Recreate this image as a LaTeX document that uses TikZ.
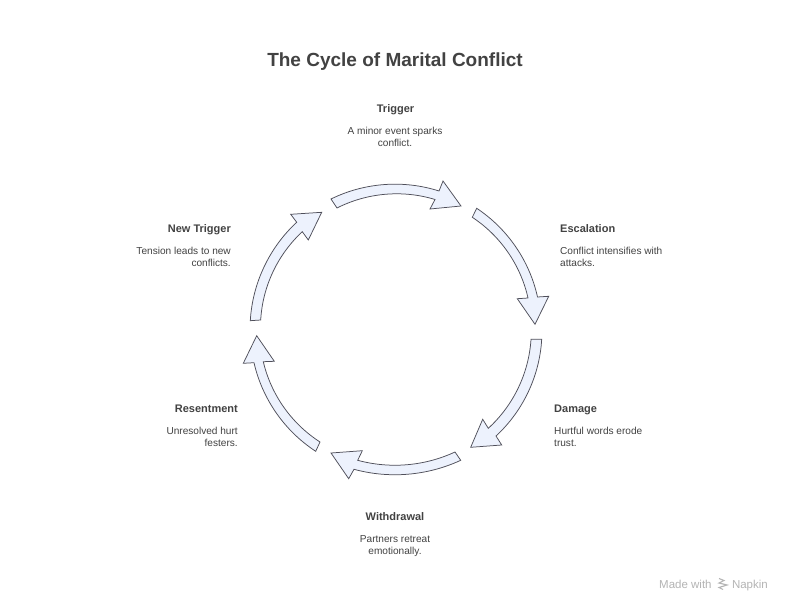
\documentclass[tikz,border=0pt]{standalone}
\usepackage{fontspec}
\setmainfont{Liberation Sans}
\definecolor{ink}{HTML}{424242}
\definecolor{arrowfill}{HTML}{EDF2FD}
\definecolor{arrowline}{HTML}{4F4F5A}
\definecolor{brandgrey}{HTML}{B4B4B4}
\tikzset{
  arrowshape/.style={draw=arrowline,fill=arrowfill,line width=0.75pt,line join=miter},
  heading/.style={inner sep=0pt,text=ink,text height=8.5pt,text depth=2.5pt,font=\fontsize{11}{14}\selectfont\bfseries},
  body/.style={inner sep=0pt,text=ink,font=\fontsize{10.1}{12}\selectfont,execute at begin node=\strut,execute at end node=\strut},
  maintitle/.style={inner sep=0pt,text=ink,text height=14pt,text depth=4pt,font=\fontsize{19}{24}\selectfont\bfseries},
  brand/.style={inner sep=0pt,text=brandgrey,text height=8.5pt,text depth=2.5pt,font=\fontsize{11.5}{14}\selectfont},
  arc1/.style={bend left=#1,looseness=0.88},
  arc2/.style={bend right=#1,looseness=0.88}
}
\newcommand{\cyclearrow}[9]{%
  \draw[arrowshape] #1 to[arc1=#9] #3 -- #5 -- #7 -- #6 -- #4 to[arc2=#9] #2 -- cycle;}
\begin{document}
\begin{tikzpicture}[x=1pt,y=-1pt]
\useasboundingbox (0,0) rectangle (792,612);
\fill[white] (0,0) rectangle (792,612);
\cyclearrow{(331,199)}{(337,208)}{(439,191)}{(435,199.5)}{(443,181)}{(430,209)}{(461,206)}{}{22}
\cyclearrow{(476.7,208.3)}{(472.3,217.3)}{(537.5,297)}{(528,298)}{(548.7,296.3)}{(517.3,298.7)}{(535,324.3)}{}{22}
\cyclearrow{(541.7,339.3)}{(531,339.3)}{(496,436)}{(488.3,428.3)}{(501.7,445)}{(482.7,419.3)}{(470.7,447.3)}{}{22}
\cyclearrow{(460.7,460.3)}{(455,452)}{(354,469.3)}{(357.7,460.3)}{(348.7,478.7)}{(362.3,450.7)}{(331,453)}{}{20}
\cyclearrow{(315.7,451.3)}{(320,442)}{(254,362.7)}{(263.3,361.7)}{(243.3,363.3)}{(274.3,361.3)}{(256.7,335.7)}{}{22}
\cyclearrow{(250.3,320.7)}{(260.7,320)}{(296.7,222.3)}{(302.3,231.7)}{(290.7,214.3)}{(308.3,240)}{(321.7,212.3)}{}{22}

\node[maintitle] (title) at (395,62) {The Cycle of Marital Conflict};

\node[heading] (h1) at (395.5,109.5) {Trigger};
\node[body,align=center] (b1) at (395,139) {A minor event sparks\\conflict.};
\node[heading,anchor=west] (h2) at (560,229.5) {Escalation};
\node[body,align=left,anchor=west] (b2) at (560,259) {Conflict intensifies with\\attacks.};
\node[heading,anchor=west] (h3) at (554,409.5) {Damage};
\node[body,align=left,anchor=west] (b3) at (554,439) {Hurtful words erode\\trust.};
\node[heading] (h4) at (395,517.5) {Withdrawal};
\node[body,align=center] (b4) at (395,547) {Partners retreat\\emotionally.};
\node[heading,anchor=east] (h5) at (238,409.5) {Resentment};
\node[body,align=right,anchor=east] (b5) at (238,439) {Unresolved hurt\\festers.};
\node[heading,anchor=east] (h6) at (231,229.5) {New Trigger};
\node[body,align=right,anchor=east] (b6) at (231,259) {Tension leads to new\\conflicts.};

\node[brand,anchor=west] (made) at (659,585) {Made with};
\node[brand,anchor=east] (napkin) at (768,585) {Napkin};
\draw[brandgrey,line width=1.1pt,line join=miter] (719,578.5) -- (724,580.5) -- (719,583) -- (727,585) -- (719,587.5) -- (723,589.5);
\end{tikzpicture}
\end{document}
